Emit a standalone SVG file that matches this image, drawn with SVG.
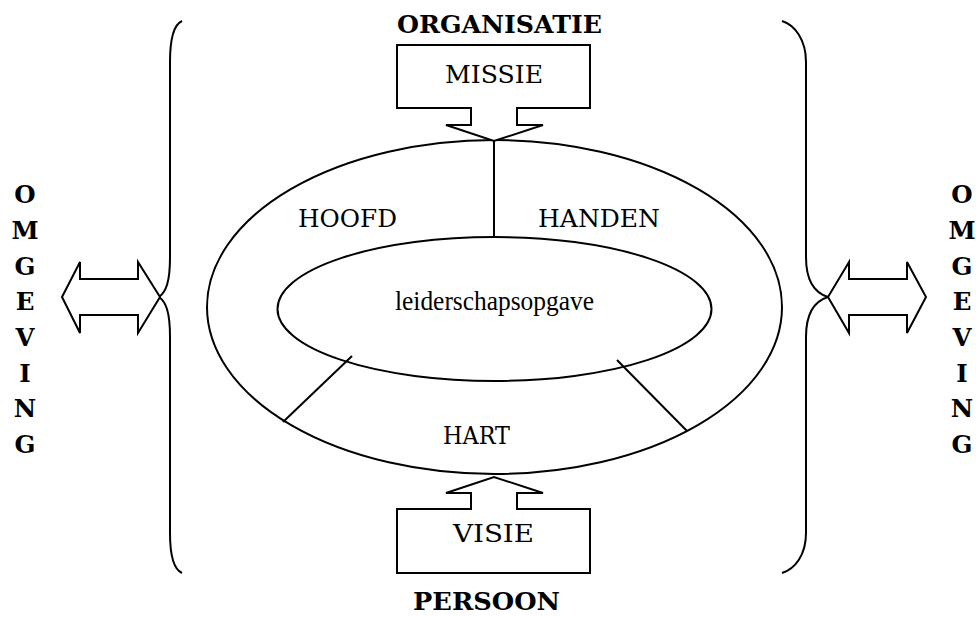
<svg xmlns="http://www.w3.org/2000/svg" width="976" height="617" viewBox="0 0 976 617">
<style>
.ln{fill:none;stroke:#000;stroke-width:2}
.sh{fill:#fff;stroke:#000;stroke-width:2;stroke-linejoin:miter}
.t{font-family:"DejaVu Serif","Liberation Serif",serif;font-size:24.5px;fill:#000}
.lc{font-family:"Liberation Serif","DejaVu Serif",serif;font-size:27px;fill:#000}
.b{font-weight:bold}
.m{text-anchor:middle}
</style>
<rect width="976" height="617" fill="#fff"/>
<g id="braces">
<path class="ln" d="M182,21 C173,25 170,40 170,62 V257 C170,282 166,292 159,297 C166,302 170,312 170,337 V533 C170,555 173,569 182,573"/>
<path class="ln" d="M782,21 C795,25 806,40 806,62 V257 C806,282 815,293 828,297 C815,301 806,312 806,337 V533 C806,555 795,569 782,573"/>
</g>
<g id="omgeving-left" class="t b m">
<text x="25" y="203">O</text><text x="25" y="239">M</text><text x="25" y="275">G</text><text x="25" y="310">E</text><text x="25" y="346">V</text><text x="25" y="382">I</text><text x="25" y="417">N</text><text x="25" y="453">G</text>
</g>
<g id="omgeving-right" class="t b m">
<text x="962" y="203">O</text><text x="962" y="239">M</text><text x="962" y="275">G</text><text x="962" y="310">E</text><text x="962" y="346">V</text><text x="962" y="382">I</text><text x="962" y="417">N</text><text x="962" y="453">G</text>
</g>
<g id="arrow-left">
<path class="sh" d="M62,297 L80,262 V279 H138 V262 L160,297 L138,333 V315 H80 V333 Z"/>
</g>
<g id="arrow-right">
<path class="sh" d="M828,297 L849,262 V279 H907 V262 L926,297 L907,333 V315 H849 V333 Z"/>
</g>
<g id="outer-ellipse">
<ellipse class="ln" cx="494.5" cy="307" rx="287.5" ry="167"/>
</g>
<g id="inner-ellipse">
<ellipse class="ln" cx="494.5" cy="309" rx="217" ry="72"/>
<text class="lc m" x="494.5" y="310" textLength="199" lengthAdjust="spacingAndGlyphs">leiderschapsopgave</text>
</g>
<g id="connectors">
<line class="ln" x1="494" y1="141" x2="494" y2="237"/>
<line class="ln" x1="352" y1="356" x2="283" y2="422"/>
<line class="ln" x1="617" y1="360" x2="687" y2="431"/>
</g>
<g id="labels" class="t m">
<text x="347.5" y="227" textLength="99" lengthAdjust="spacingAndGlyphs">HOOFD</text>
<text x="599" y="227" textLength="122" lengthAdjust="spacingAndGlyphs">HANDEN</text>
<text x="476.5" y="444" textLength="67" lengthAdjust="spacingAndGlyphs">HART</text>
</g>
<g id="missie">
<path class="sh" d="M397,45 H590 V108 H517 V125 H543 L494,141 L446,125 H471 V108 H397 Z"/>
<text class="t m" x="494" y="83" textLength="98" lengthAdjust="spacingAndGlyphs">MISSIE</text>
<text class="t b m" x="499.5" y="33" textLength="205" lengthAdjust="spacingAndGlyphs">ORGANISATIE</text>
</g>
<g id="visie">
<path class="sh" d="M397,573 H590 V509 H517 V493 H543 L494,477 L446,493 H471 V509 H397 Z"/>
<text class="t m" x="493.5" y="542" textLength="81" lengthAdjust="spacingAndGlyphs">VISIE</text>
<text class="t b m" x="486.5" y="610" textLength="147" lengthAdjust="spacingAndGlyphs">PERSOON</text>
</g>
</svg>
